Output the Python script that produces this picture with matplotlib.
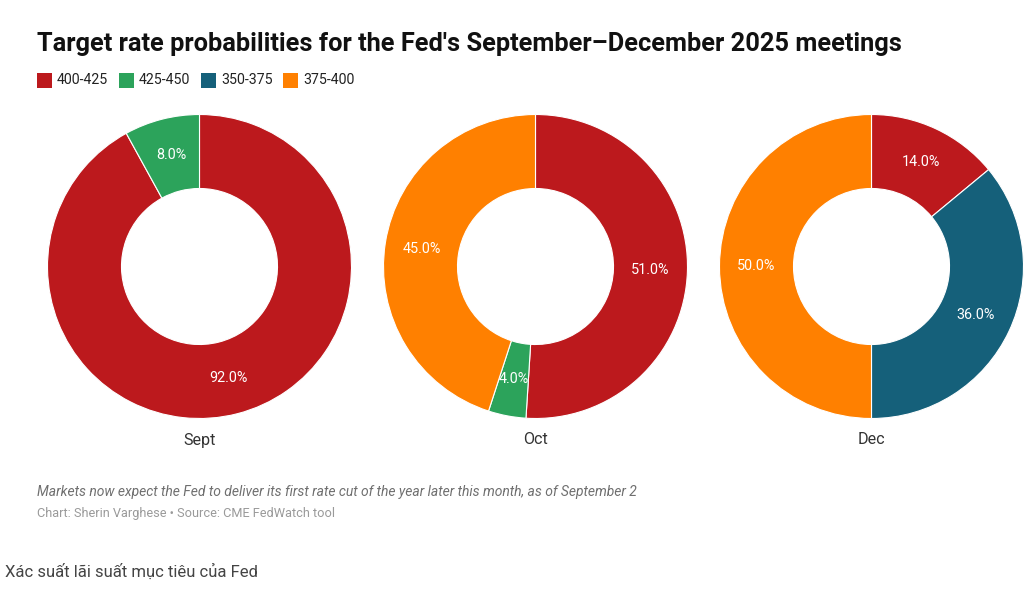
import matplotlib.pyplot as plt

W, H = 1029, 590

# data
months = ['Sept', 'Oct', 'Dec']
rate_ranges = ['400-425', '425-450', '350-375', '375-400']
range_colors = {'400-425': '#BC191D', '425-450': '#2CA35B',
                '350-375': '#15607A', '375-400': '#FF8000'}
sept_ranges = ['400-425', '425-450']
sept_probs = [92.0, 8.0]
oct_ranges = ['400-425', '425-450', '375-400']
oct_probs = [51.0, 4.0, 45.0]
dec_ranges = ['400-425', '350-375', '375-400']
dec_probs = [14.0, 36.0, 50.0]

plt.rcParams['font.family'] = ['Roboto', 'DejaVu Sans']

fig = plt.figure(figsize=(W / 100, H / 100), dpi=100)
ax = fig.add_axes([0, 0, 1, 1])

def py(y):
    return H - y

centers_x = [199.5, 535.5, 871.5]
cy = 266.5
r_out = 152
r_in = 78
mid = (r_out + r_in) / 2 / r_out

all_data = [(sept_ranges, sept_probs), (oct_ranges, oct_probs), (dec_ranges, dec_probs)]
for cx, name, (rngs, probs) in zip(centers_x, months, all_data):
    wedges, texts, autotexts = ax.pie(
        probs, colors=[range_colors[r] for r in rngs], startangle=90,
        counterclock=False, radius=r_out, center=(cx, py(cy)),
        autopct='%.1f%%', pctdistance=mid, frame=True,
        wedgeprops=dict(width=r_out - r_in, edgecolor='white', linewidth=0.8),
        textprops=dict(color='white', fontsize=10.4))
    ax.text(cx, py(440), name, ha='center', va='center', fontsize=11.6, color='#333333')

ax.set_xlim(0, W)
ax.set_ylim(0, H)
ax.set_aspect('auto')
ax.axis('off')

ax.text(37, py(44), "Target rate probabilities for the Fed's September\u2013December 2025 meetings",
        fontsize=18.3, fontweight='bold', color='#111111', va='center', ha='left')

# legend
lx = 37
for r in rate_ranges:
    ax.add_patch(plt.Rectangle((lx, py(88)), 15, 15, color=range_colors[r], lw=0))
    ax.text(lx + 20, py(80.5), r, fontsize=10.2, color='#222222', va='center', ha='left')
    lx += 82

ax.text(37, py(492), 'Markets now expect the Fed to deliver its first rate cut of the year later this month, as of September 2',
        fontsize=10.0, style='italic', color='#6f6f6f', va='center', ha='left')
ax.text(37, py(513), 'Chart: Sherin Varghese \u2022 Source: CME FedWatch tool',
        fontsize=9.2, color='#9a9a9a', va='center', ha='left')
ax.text(5, py(572), 'Xác suất lãi suất mục tiêu của Fed',
        fontsize=12, color='#444444', va='center', ha='left')

fig.savefig('out.png', dpi=100)
